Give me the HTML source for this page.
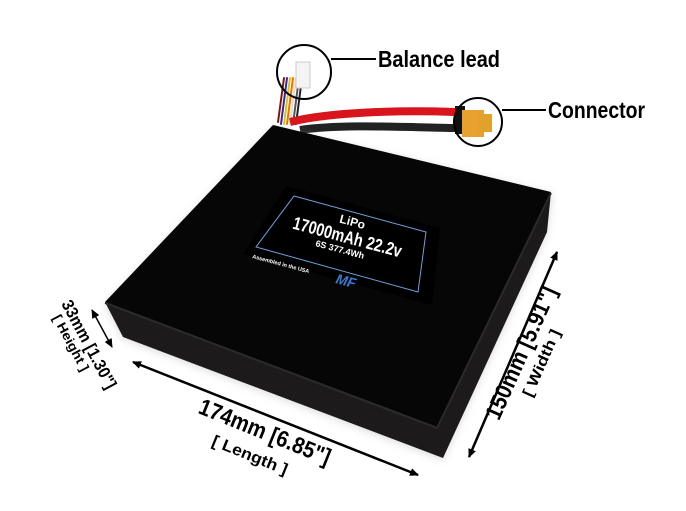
<!DOCTYPE html>
<html><head><style>
html,body{margin:0;padding:0;background:#fff;width:686px;height:511px;overflow:hidden}
text{font-family:"Liberation Sans",sans-serif;font-weight:bold}
</style></head><body>
<svg width="686" height="511" viewBox="0 0 686 511" xmlns="http://www.w3.org/2000/svg">
<defs>
<marker id="ah" markerWidth="9" markerHeight="8" refX="8" refY="4" orient="auto" markerUnits="userSpaceOnUse"><path d="M0,0 L9,4 L0,8 z" fill="#000"/></marker>
<marker id="at" markerWidth="9" markerHeight="8" refX="1" refY="4" orient="auto" markerUnits="userSpaceOnUse"><path d="M9,0 L0,4 L9,8 z" fill="#000"/></marker>
<filter id="sh" x="-10%" y="-10%" width="120%" height="120%"><feGaussianBlur stdDeviation="4"/></filter>
</defs>
<!-- wires -->
<g stroke-linecap="round" fill="none">
<path d="M284,78 L278,122" stroke="#8a1010" stroke-width="2"/>
<path d="M287,78 L281,124" stroke="#2030a0" stroke-width="2"/>
<path d="M290,78 L284,124" stroke="#e8c000" stroke-width="2"/>
<path d="M293,78 L287,124" stroke="#f07000" stroke-width="2"/>
<path d="M296,78 L290,124" stroke="#ddd" stroke-width="2"/>
<path d="M299,78 L293,124" stroke="#555" stroke-width="2"/>
<path d="M302,78 L296,124" stroke="#222" stroke-width="2"/>
</g>
<rect x="296" y="62" width="14" height="26" fill="#f4f4f4" stroke="#ccc"/>
<path d="M290,122 C330,112 400,110 455,112" stroke="#d8141c" stroke-width="8" fill="none"/>
<path d="M300,130 C340,124 400,127 455,128" stroke="#222" stroke-width="8" fill="none"/>
<rect x="455" y="106" width="10" height="28" fill="#111"/>
<rect x="462" y="110" width="22" height="27" fill="#e8a030"/>
<rect x="478" y="114" width="14" height="18" fill="#e2a12c"/>
<!-- callouts -->
<circle cx="304" cy="72" r="27" fill="none" stroke="#000" stroke-width="2"/>
<line x1="331" y1="59" x2="376" y2="59" stroke="#000" stroke-width="2"/>
<text x="378" y="67" font-size="23" textLength="122" lengthAdjust="spacingAndGlyphs">Balance lead</text>
<circle cx="478" cy="122" r="24" fill="none" stroke="#000" stroke-width="2"/>
<line x1="502" y1="110" x2="546" y2="110" stroke="#000" stroke-width="2"/>
<text x="548" y="118" font-size="23" textLength="97" lengthAdjust="spacingAndGlyphs">Connector</text>
<!-- battery -->
<polygon points="273,127 552,194 547,234 443,460 123,339 105,305" fill="#bbb" filter="url(#sh)" opacity="0.5"/>
<polygon points="105,302 437,427 551,192 547,232 443,458 123,337" fill="#1c1a1a"/>
<polygon points="273,125 551,192 437,427 105,302" fill="#070606"/>
<polyline points="105,303 437,428 551,193" fill="none" stroke="#2a2a2a" stroke-width="2"/>
<!-- label -->
<polygon points="286,186 440,228 432,305 243,254" fill="#000"/>
<polygon points="294,196 426,232 418,292 256,247" fill="none" stroke="#6fa0d8" stroke-width="1"/>
<g transform="translate(343,238) rotate(15)">
<text x="5" y="-14" font-size="12" fill="#fff" text-anchor="middle">LiPo</text>
<text x="-52" y="4" font-size="18" fill="#fff" textLength="112" lengthAdjust="spacingAndGlyphs">17000mAh 22.2v</text>
<text x="0" y="15" font-size="9" fill="#fff" text-anchor="middle">6S 377.4Wh</text>
</g>
<text transform="translate(252,258) rotate(15)" font-size="5.5" fill="#fff">Assembled in the USA</text>
<text transform="translate(335,283) rotate(15)" font-size="14" fill="#3a7ad0" font-style="italic">MF</text>
<!-- dimensions -->
<line x1="557" y1="252" x2="469" y2="457" stroke="#000" stroke-width="2.5" marker-start="url(#at)" marker-end="url(#ah)"/>
<text transform="translate(528,356) rotate(-66)" font-size="23" text-anchor="middle" textLength="143" lengthAdjust="spacingAndGlyphs">150mm [5.91"]</text>
<text transform="translate(546,365) rotate(-66)" font-size="15" text-anchor="middle" textLength="72" lengthAdjust="spacingAndGlyphs">[ Width ]</text>
<line x1="133" y1="362" x2="418" y2="475" stroke="#000" stroke-width="2.5" marker-start="url(#at)" marker-end="url(#ah)"/>
<text transform="translate(262,439) rotate(22)" font-size="23" text-anchor="middle" textLength="140" lengthAdjust="spacingAndGlyphs">174mm [6.85"]</text>
<text transform="translate(248,460) rotate(22)" font-size="16" text-anchor="middle" textLength="80" lengthAdjust="spacingAndGlyphs">[ Length ]</text>
<line x1="92" y1="310" x2="112" y2="347" stroke="#000" stroke-width="1.5" marker-start="url(#at)" marker-end="url(#ah)"/>
<text transform="translate(84,347) rotate(62)" font-size="17" text-anchor="middle" textLength="98" lengthAdjust="spacingAndGlyphs">33mm [1.30"]</text>
<text transform="translate(67,345) rotate(62)" font-size="13" text-anchor="middle" textLength="62" lengthAdjust="spacingAndGlyphs">[ Height ]</text>
</svg>
</body></html>
